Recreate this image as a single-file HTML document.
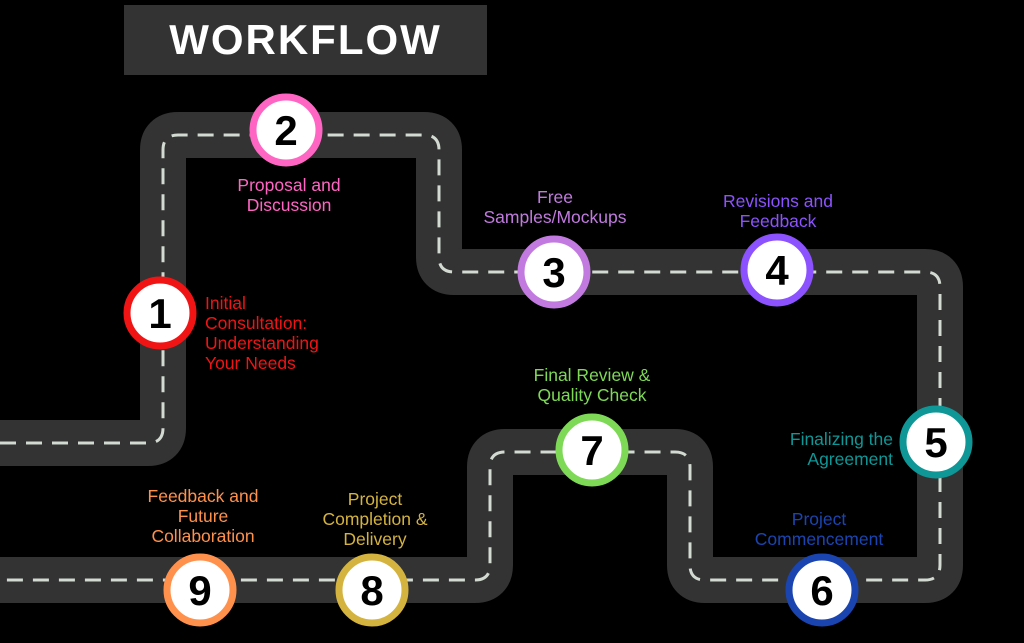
<!DOCTYPE html>
<html><head><style>
body{margin:0;background:#000;width:1024px;height:643px;overflow:hidden;position:relative;font-family:"Liberation Sans",sans-serif}
.t{position:absolute;text-align:center;font-size:17.5px;line-height:20px}
.title{position:absolute;left:124px;top:5px;width:363px;height:70px;background:#333;color:#fff;font-weight:bold;font-size:42px;line-height:70px;text-align:center;letter-spacing:2px}
</style></head><body>
<div class="title">WORKFLOW</div>
<svg width="1024" height="643" style="position:absolute;left:0;top:0">
<path d="M0 443 H148 Q163 443 163 428 V150 Q163 135 178 135 H424 Q439 135 439 150 V257 Q439 272 454 272 H925 Q940 272 940 287 V565 Q940 580 925 580 H705 Q690 580 690 565 V467 Q690 452 675 452 H505 Q490 452 490 467 V565 Q490 580 475 580 H0" fill="none" stroke="#333" stroke-width="46" stroke-linejoin="round"/>
<path d="M0 443 H148 Q163 443 163 428 V150 Q163 135 178 135 H424 Q439 135 439 150 V257 Q439 272 454 272 H925 Q940 272 940 287 V565 Q940 580 925 580 H705 Q690 580 690 565 V467 Q690 452 675 452 H505 Q490 452 490 467 V565 Q490 580 475 580 H0" fill="none" stroke="#d2dad2" stroke-width="3" stroke-dasharray="16 10"/>
<g stroke-width="7" fill="#fff">
<circle cx="160" cy="313" r="33" stroke="#f01414"/><circle cx="286" cy="130" r="33" stroke="#ff66c4"/><circle cx="554" cy="272" r="33" stroke="#c27ae0"/><circle cx="777" cy="270" r="33" stroke="#8c52ff"/><circle cx="936" cy="442" r="33" stroke="#0f9696"/><circle cx="822" cy="590" r="33" stroke="#1a45b0"/><circle cx="592" cy="450" r="33" stroke="#7ed957"/><circle cx="372" cy="590" r="33" stroke="#d4b33f"/><circle cx="200" cy="590" r="33" stroke="#ff914d"/>
</g>
<g font-family="Liberation Sans" font-weight="bold" font-size="42" text-anchor="middle" fill="#000">
<text x="160" y="328">1</text><text x="286" y="145">2</text><text x="554" y="287">3</text><text x="777" y="285">4</text><text x="936" y="457">5</text><text x="822" y="605">6</text><text x="592" y="465">7</text><text x="372" y="605">8</text><text x="200" y="605">9</text>
</g>
</svg>
<div class="t" style="left:205px;top:293px;text-align:left;color:#f01414">Initial<br>Consultation:<br>Understanding<br>Your Needs</div>
<div class="t" style="left:209px;top:175px;width:160px;color:#ff66c4">Proposal and<br>Discussion</div>
<div class="t" style="left:455px;top:187px;width:200px;color:#c27ae0">Free<br>Samples/Mockups</div>
<div class="t" style="left:688px;top:191px;width:180px;color:#8c52ff">Revisions and<br>Feedback</div>
<div class="t" style="left:743px;top:429px;width:150px;text-align:right;color:#0f9696">Finalizing the<br>Agreement</div>
<div class="t" style="left:719px;top:509px;width:200px;color:#1a45b0">Project<br>Commencement</div>
<div class="t" style="left:502px;top:365px;width:180px;color:#7ed957">Final Review &amp;<br>Quality Check</div>
<div class="t" style="left:300px;top:489px;width:150px;color:#d4b33f">Project<br>Completion &amp;<br>Delivery</div>
<div class="t" style="left:118px;top:486px;width:170px;color:#ff914d">Feedback and<br>Future<br>Collaboration</div>
</body></html>
